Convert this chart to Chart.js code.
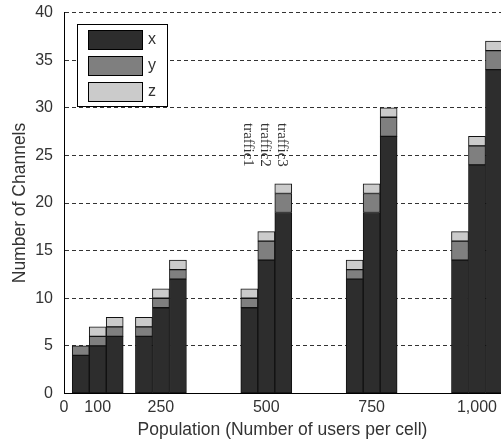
<!DOCTYPE html>
<html>
<head>
<meta charset="utf-8">
<script src="https://cdn.jsdelivr.net/npm/chart.js@4.4.1/dist/chart.umd.min.js"></script>
<style>
  html, body { margin: 0; padding: 0; background: #fff; overflow: hidden; }
  #wrap { width: 501px; height: 443px; }
</style>
</head>
<body>
<div id="wrap"><canvas id="c" width="501" height="443"></canvas></div>
<script>
// ---- data ----
const groups = [100, 250, 500, 750, 1000];
const seriesNames = ['x', 'y', 'z'];
const stackNames = ['traffic1', 'traffic2', 'traffic3'];

const traffic1X = [4, 6, 9, 12, 14];
const traffic1Y = [1, 1, 1, 1, 2];
const traffic1Z = [0, 1, 1, 1, 1];

const traffic2X = [5, 9, 14, 19, 24];
const traffic2Y = [1, 1, 2, 2, 2];
const traffic2Z = [1, 1, 1, 1, 1];

const traffic3X = [6, 12, 19, 27, 34];
const traffic3Y = [1, 1, 2, 2, 2];
const traffic3Z = [1, 1, 1, 1, 1];

const xTickValues = [20, 100, 250, 500, 750, 1000];
const xTickLabels = ['0', '100', '250', '500', '750', '1,000'];
const yTickValues = [0, 5, 10, 15, 20, 25, 30, 35, 40];

const annotationGroup = 500;
const annotationValue = 28.4;

// ---- styles ----
const seriesColors = ['#2d2d2d', '#7f7f7f', '#cbcbcb'];
const FONT = "'Liberation Sans', Arial, sans-serif";

const stackValues = [
  [traffic1X, traffic1Y, traffic1Z],
  [traffic2X, traffic2Y, traffic2Z],
  [traffic3X, traffic3Y, traffic3Z]
];

const datasets = [];
stackNames.forEach((st, si) => {
  seriesNames.forEach((sn, ci) => {
    datasets.push({
      label: sn,
      stack: st,
      data: groups.map((g, i) => ({ x: g, y: stackValues[si][ci][i] })),
      backgroundColor: seriesColors[ci],
      borderColor: '#111',
      borderWidth: 1,
      borderSkipped: false,
      barThickness: 17
    });
  });
});

const legendPlugin = {
  id: 'boxLegend',
  afterDraw(chart) {
    const ctx = chart.ctx, a = chart.chartArea;
    const bx = a.left + 13, by = a.top + 11.5, bw = 90, bh = 82;
    ctx.save();
    ctx.fillStyle = '#fff';
    ctx.fillRect(bx, by, bw, bh);
    ctx.strokeStyle = '#000';
    ctx.lineWidth = 1;
    ctx.strokeRect(bx + 0.5, by + 0.5, bw, bh);
    seriesNames.forEach((name, i) => {
      const sy = by + 6 + i * 26;
      ctx.fillStyle = seriesColors[i];
      ctx.fillRect(bx + 11, sy, 54, 19);
      ctx.strokeStyle = '#000';
      ctx.strokeRect(bx + 11.5, sy + 0.5, 54, 19);
      ctx.fillStyle = '#333';
      ctx.font = '16px ' + FONT;
      ctx.textBaseline = 'middle';
      ctx.textAlign = 'left';
      ctx.fillText(name, bx + 71, sy + 10);
    });
    ctx.restore();
  }
};

const annotationPlugin = {
  id: 'stackLabels',
  afterDatasetsDraw(chart) {
    const ctx = chart.ctx;
    const yScale = chart.scales.y;
    const gi = groups.indexOf(annotationGroup);
    ctx.save();
    ctx.font = "15px 'Liberation Serif', 'Times New Roman', serif";
    ctx.fillStyle = '#333';
    stackNames.forEach((st, si) => {
      const dsIndex = si * seriesNames.length;
      const el = chart.getDatasetMeta(dsIndex).data[gi];
      const px = el.x - 1;
      const py = yScale.getPixelForValue(annotationValue);
      ctx.save();
      ctx.translate(px, py);
      ctx.rotate(Math.PI / 2);
      ctx.textAlign = 'left';
      ctx.textBaseline = 'middle';
      ctx.fillText(st, 0, 0);
      ctx.restore();
    });
    ctx.restore();
  }
};

new Chart(document.getElementById('c'), {
  type: 'bar',
  data: { datasets },
  options: {
    responsive: false,
    devicePixelRatio: 1,
    animation: false,
    layout: { padding: { top: 12.5, right: 0, bottom: 0, left: 0 } },
    plugins: { legend: { display: false }, tooltip: { enabled: false } },
    scales: {
      x: {
        type: 'linear',
        stacked: true,
        offset: false,
        min: xTickValues[0],
        max: 1057,
        afterBuildTicks: (s) => { s.ticks = xTickValues.map(v => ({ value: v })); },
        afterFit: (s) => { s.height = 49.5; },
        ticks: {
          autoSkip: false,
          maxRotation: 0,
          padding: 4,
          color: '#333',
          font: { family: FONT, size: 16 },
          callback: (v) => xTickLabels[xTickValues.indexOf(v)]
        },
        grid: { display: false, offset: false, drawTicks: false },
        border: { display: true, color: '#000', width: 1 },
        title: {
          display: true,
          text: 'Population (Number of users per cell)',
          color: '#333',
          font: { family: FONT, size: 17.5 },
          padding: { top: 0, bottom: 2.5 }
        }
      },
      y: {
        stacked: true,
        min: 0,
        max: 40,
        afterBuildTicks: (s) => { s.ticks = yTickValues.map(v => ({ value: v })); },
        afterFit: (s) => { s.width = 64; },
        ticks: {
          padding: 0,
          color: '#333',
          font: { family: FONT, size: 16 }
        },
        grid: {
          display: true, color: '#333', lineWidth: 1,
          drawTicks: true, tickLength: 11, tickColor: 'rgba(0,0,0,0)'
        },
        border: { display: true, color: '#000', width: 1, dash: [4, 3] },
        title: {
          display: true,
          text: 'Number of Channels',
          color: '#333',
          font: { family: FONT, size: 17.5 },
          padding: { top: 9.5, bottom: 0 }
        }
      }
    }
  },
  plugins: [annotationPlugin, legendPlugin]
});
</script>
</body>
</html>
